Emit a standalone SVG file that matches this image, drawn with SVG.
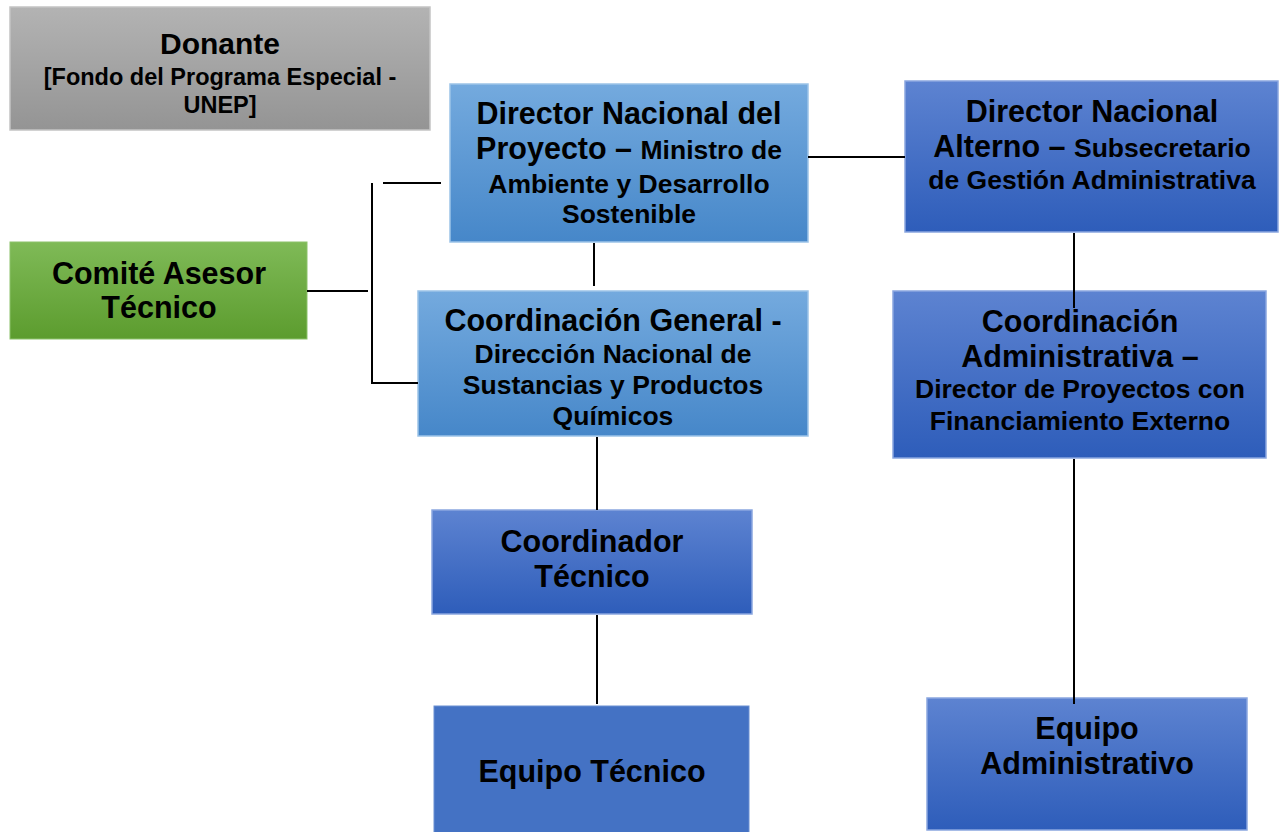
<svg xmlns="http://www.w3.org/2000/svg" width="1281" height="832" viewBox="0 0 1281 832">
<defs>
<linearGradient id="gGray" x1="0" y1="0" x2="0" y2="1"><stop offset="0" stop-color="#b3b3b3"/><stop offset="1" stop-color="#949494"/></linearGradient>
<linearGradient id="gGreen" x1="0" y1="0" x2="0" y2="1"><stop offset="0" stop-color="#7fba57"/><stop offset="1" stop-color="#5c9c2e"/></linearGradient>
<linearGradient id="gLight" x1="0" y1="0" x2="0" y2="1"><stop offset="0" stop-color="#74aade"/><stop offset="1" stop-color="#4687c9"/></linearGradient>
<linearGradient id="gDark" x1="0" y1="0" x2="0" y2="1"><stop offset="0" stop-color="#5d83d1"/><stop offset="1" stop-color="#2e5dba"/></linearGradient>
</defs>
<style>
.t{font-family:"Liberation Sans",Arial,sans-serif;font-weight:bold;fill:#000;text-anchor:middle}
.big{font-size:30.5px}
.med{font-size:26.5px}
.sm{font-size:23.5px}
.conn{stroke:#000;stroke-width:2;fill:none}
.bl{stroke:#9cc3e8;stroke-width:1.5}
.bd{stroke:#8aa6df;stroke-width:1.5}
</style>
<rect width="1281" height="832" fill="#fff"/>
<g id="donante">
<rect x="10" y="7" width="420" height="123" fill="url(#gGray)" stroke="#c4c4c4" stroke-width="1.5"/>
<text class="t" x="220" y="54" font-size="30">Donante</text>
<text class="t sm" x="220" y="85">[Fondo del Programa Especial -</text>
<text class="t sm" x="220" y="113">UNEP]</text>
</g>
<g id="director-nacional">
<rect x="450" y="84" width="358" height="158" fill="url(#gLight)" class="bl"/>
<text class="t big" x="629" y="124">Director Nacional del</text>
<text class="t" x="629" y="159"><tspan class="big">Proyecto – </tspan><tspan class="med">Ministro de</tspan></text>
<text class="t med" x="629" y="193">Ambiente y Desarrollo</text>
<text class="t med" x="629" y="223">Sostenible</text>
</g>
<g id="director-alterno">
<rect x="905" y="81" width="373" height="151" fill="url(#gDark)" class="bd"/>
<text class="t big" x="1092" y="122">Director Nacional</text>
<text class="t" x="1092" y="157"><tspan class="big">Alterno – </tspan><tspan class="med">Subsecretario</tspan></text>
<text class="t med" x="1092" y="189">de Gestión Administrativa</text>
</g>
<g id="comite">
<rect x="10" y="242" width="297" height="97" fill="url(#gGreen)" stroke="#8cc26a" stroke-width="1"/>
<text class="t big" x="159" y="284">Comité Asesor</text>
<text class="t big" x="159" y="318">Técnico</text>
</g>
<g id="coordinacion-general">
<rect x="418" y="291" width="390" height="145" fill="url(#gLight)" class="bl"/>
<text class="t big" x="613" y="331">Coordinación General -</text>
<text class="t med" x="613" y="363">Dirección Nacional de</text>
<text class="t med" x="613" y="394">Sustancias y Productos</text>
<text class="t med" x="613" y="425">Químicos</text>
</g>
<g id="coordinacion-administrativa">
<rect x="893" y="291" width="373" height="167" fill="url(#gDark)" class="bd"/>
<text class="t big" x="1080" y="332">Coordinación</text>
<text class="t big" x="1080" y="367">Administrativa –</text>
<text class="t med" x="1080" y="398">Director de Proyectos con</text>
<text class="t med" x="1080" y="430">Financiamiento Externo</text>
</g>
<g id="coordinador-tecnico">
<rect x="432" y="510" width="320" height="104" fill="url(#gDark)" class="bd"/>
<text class="t big" x="592" y="552">Coordinador</text>
<text class="t big" x="592" y="587">Técnico</text>
</g>
<g id="equipo-tecnico">
<rect x="434" y="706" width="315" height="130" fill="#4472c4" stroke="#6a8fd2" stroke-width="1"/>
<text class="t big" x="592" y="782">Equipo Técnico</text>
</g>
<g id="equipo-administrativo">
<rect x="927" y="698" width="320" height="132" fill="url(#gDark)" class="bd"/>
<text class="t big" x="1087" y="739">Equipo</text>
<text class="t big" x="1087" y="774">Administrativo</text>
</g>
<g id="connectors">
<line class="conn" x1="808" y1="157" x2="905" y2="157"/>
<line class="conn" x1="383" y1="183" x2="441" y2="183"/>
<polyline class="conn" points="372,183 372,383 418,383"/>
<line class="conn" x1="307" y1="291" x2="368" y2="291"/>
<line class="conn" x1="594" y1="243" x2="594" y2="286"/>
<line class="conn" x1="597" y1="437" x2="597" y2="510"/>
<line class="conn" x1="597" y1="615" x2="597" y2="704"/>
<line class="conn" x1="1074" y1="233" x2="1074" y2="308"/>
<line class="conn" x1="1074" y1="459" x2="1074" y2="704"/>
</g>
</svg>
